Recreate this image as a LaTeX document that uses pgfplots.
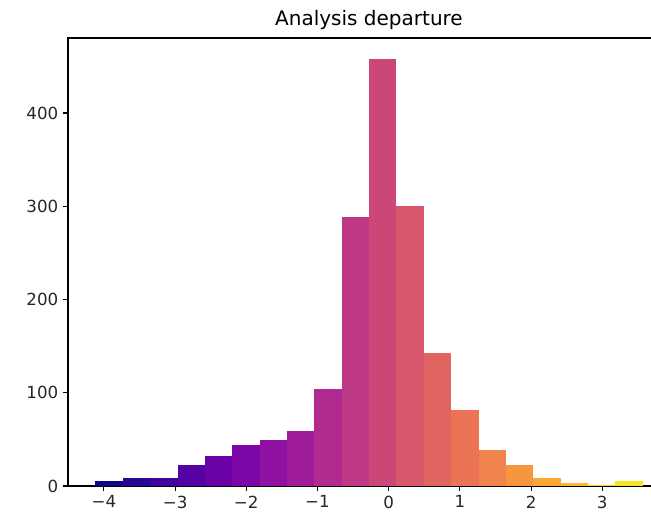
\documentclass[border=0pt]{standalone}
\usepackage{fontspec}
\setmainfont{DejaVu Sans}
\usepackage{pgfplots}
\pgfplotsset{compat=1.18}
\definecolor{c0}{RGB}{13,8,135}
\definecolor{c1}{RGB}{39,6,146}
\definecolor{c2}{RGB}{64,4,157}
\definecolor{c3}{RGB}{85,2,162}
\definecolor{c4}{RGB}{105,1,166}
\definecolor{c5}{RGB}{125,7,166}
\definecolor{c6}{RGB}{143,16,161}
\definecolor{c7}{RGB}{161,28,154}
\definecolor{c8}{RGB}{176,42,144}
\definecolor{c9}{RGB}{190,57,133}
\definecolor{c10}{RGB}{202,71,120}
\definecolor{c11}{RGB}{216,87,107}
\definecolor{c12}{RGB}{224,101,97}
\definecolor{c13}{RGB}{234,116,85}
\definecolor{c14}{RGB}{241,132,76}
\definecolor{c15}{RGB}{248,150,64}
\definecolor{c16}{RGB}{251,168,54}
\definecolor{c17}{RGB}{252,187,45}
\definecolor{c18}{RGB}{252,207,38}
\definecolor{c19}{RGB}{246,228,35}
\begin{document}
\begin{tikzpicture}
\begin{axis}[
  at={(0,0)}, anchor=south west,
  scale only axis,
  width=451.5pt, height=336pt,
  xmin=-4.504, xmax=3.951,
  ymin=0, ymax=480.5,
  axis line style={line width=0.83pt},
  tick style={line width=0.83pt, black},
  tick align=outside,
  major tick length=3.8pt,
  xtick pos=bottom, ytick pos=left,
  xtick={-4,-3,-2,-1,0,1,2,3},
  xticklabels={−4,−3,−2,−1,0,1,2,3},
  ytick={0,100,200,300,400},
  yticklabels={0,100,200,300,400},
  tick label style={font=\fontsize{12.5}{14}\selectfont, text=black!85},
  xticklabel style={yshift=0pt},
  title={Analysis departure},
  title style={font=\fontsize{15}{18}\selectfont, yshift=-3pt},
]
\addplot[fill=c0, draw=none] coordinates {(-4.119,0) (-4.119,5) (-3.735,5) (-3.735,0)} --cycle;
\addplot[fill=c1, draw=none] coordinates {(-3.735,0) (-3.735,9) (-3.350,9) (-3.350,0)} --cycle;
\addplot[fill=c2, draw=none] coordinates {(-3.350,0) (-3.350,9) (-2.966,9) (-2.966,0)} --cycle;
\addplot[fill=c3, draw=none] coordinates {(-2.966,0) (-2.966,22) (-2.582,22) (-2.582,0)} --cycle;
\addplot[fill=c4, draw=none] coordinates {(-2.582,0) (-2.582,32) (-2.197,32) (-2.197,0)} --cycle;
\addplot[fill=c5, draw=none] coordinates {(-2.197,0) (-2.197,44) (-1.813,44) (-1.813,0)} --cycle;
\addplot[fill=c6, draw=none] coordinates {(-1.813,0) (-1.813,49) (-1.428,49) (-1.428,0)} --cycle;
\addplot[fill=c7, draw=none] coordinates {(-1.428,0) (-1.428,59) (-1.044,59) (-1.044,0)} --cycle;
\addplot[fill=c8, draw=none] coordinates {(-1.044,0) (-1.044,104) (-0.660,104) (-0.660,0)} --cycle;
\addplot[fill=c9, draw=none] coordinates {(-0.660,0) (-0.660,288) (-0.275,288) (-0.275,0)} --cycle;
\addplot[fill=c10, draw=none] coordinates {(-0.275,0) (-0.275,458) (0.109,458) (0.109,0)} --cycle;
\addplot[fill=c11, draw=none] coordinates {(0.109,0) (0.109,300) (0.493,300) (0.493,0)} --cycle;
\addplot[fill=c12, draw=none] coordinates {(0.493,0) (0.493,143) (0.878,143) (0.878,0)} --cycle;
\addplot[fill=c13, draw=none] coordinates {(0.878,0) (0.878,82) (1.262,82) (1.262,0)} --cycle;
\addplot[fill=c14, draw=none] coordinates {(1.262,0) (1.262,39) (1.646,39) (1.646,0)} --cycle;
\addplot[fill=c15, draw=none] coordinates {(1.646,0) (1.646,22) (2.031,22) (2.031,0)} --cycle;
\addplot[fill=c16, draw=none] coordinates {(2.031,0) (2.031,9) (2.415,9) (2.415,0)} --cycle;
\addplot[fill=c17, draw=none] coordinates {(2.415,0) (2.415,3) (2.799,3) (2.799,0)} --cycle;
\addplot[fill=c18, draw=none] coordinates {(2.799,0) (2.799,1) (3.184,1) (3.184,0)} --cycle;
\addplot[fill=c19, draw=none] coordinates {(3.184,0) (3.184,5) (3.568,5) (3.568,0)} --cycle;
\end{axis}
\pgfresetboundingbox
\useasboundingbox (-51pt,-19.5pt) rectangle (437.25pt,364.5pt);
\end{tikzpicture}
\end{document}
